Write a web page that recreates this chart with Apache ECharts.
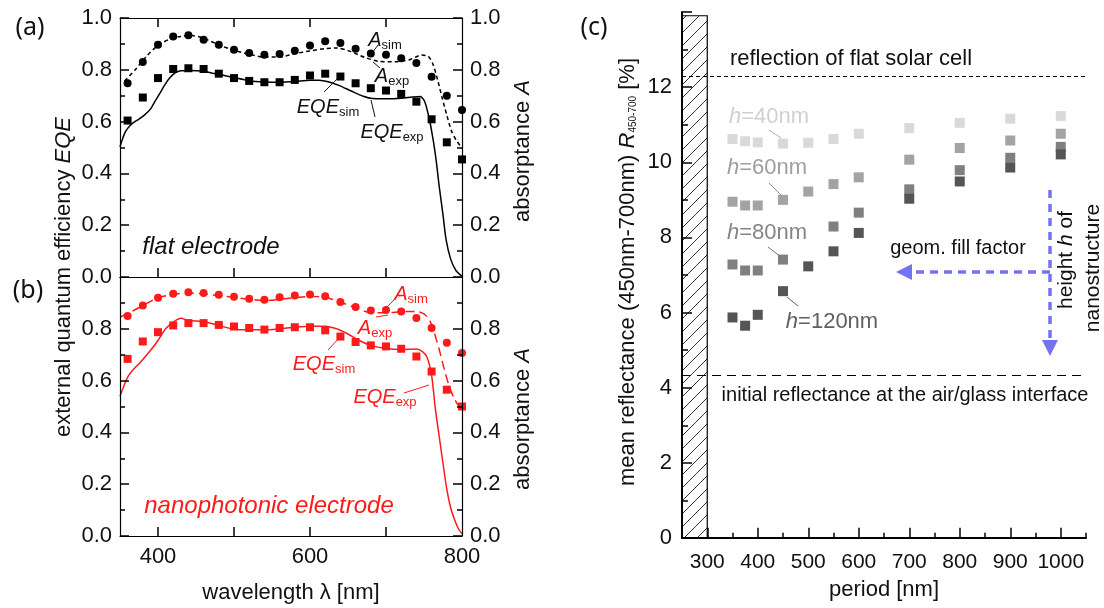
<!DOCTYPE html>
<html>
<head>
<meta charset="utf-8">
<script src="https://cdn.jsdelivr.net/npm/echarts@6.0.0/dist/echarts.min.js"></script>
<style>
  html, body { margin: 0; padding: 0; background: #fff; }
  #chart { width: 1104px; height: 608px; }
</style>
</head>
<body>
<div id="chart"></div>
<script>
// wavelengths of the simulated points, panels (a) and (b)
const lambdaPts = [360, 380, 400, 420, 440, 460, 480, 500, 520, 540, 560, 580, 600, 620, 640, 660, 680, 700, 720, 740, 760, 780, 800];

// (a) flat electrode
const flatAsim = [0.748, 0.830, 0.897, 0.929, 0.933, 0.916, 0.897, 0.877, 0.865, 0.858, 0.861, 0.874, 0.894, 0.910, 0.903, 0.881, 0.863, 0.858, 0.845, 0.826, 0.773, 0.700, 0.645];
const flatEQEsim = [0.604, 0.693, 0.768, 0.803, 0.806, 0.803, 0.785, 0.768, 0.757, 0.752, 0.752, 0.761, 0.778, 0.785, 0.774, 0.748, 0.729, 0.720, 0.707, 0.677, 0.609, 0.520, 0.454];
const flatAexp = [[356, 0.757], [370, 0.80], [385, 0.853], [400, 0.894], [415, 0.918], [430, 0.929], [445, 0.932], [460, 0.922], [480, 0.896], [500, 0.875], [520, 0.860], [540, 0.849], [560, 0.849], [580, 0.862], [600, 0.873], [620, 0.882], [636, 0.884], [652, 0.872], [672, 0.848], [690, 0.833], [712, 0.831], [730, 0.838], [747, 0.857], [756, 0.851], [762, 0.82], [768, 0.76], [774, 0.69], [780, 0.625], [786, 0.565], [792, 0.53], [800, 0.497]];
const flatEQEexp = [[350, 0.503], [357, 0.56], [365, 0.59], [374, 0.608], [382, 0.625], [390, 0.648], [397, 0.683], [403, 0.712], [409, 0.742], [415, 0.767], [422, 0.787], [430, 0.796], [442, 0.797], [458, 0.795], [472, 0.787], [486, 0.779], [500, 0.770], [520, 0.758], [540, 0.753], [560, 0.752], [580, 0.755], [600, 0.760], [612, 0.760], [625, 0.753], [638, 0.740], [655, 0.717], [670, 0.698], [682, 0.689], [700, 0.688], [720, 0.690], [735, 0.695], [745, 0.697], [751, 0.677], [757, 0.61], [762, 0.53], [766, 0.45], [770, 0.35], [775, 0.24], [779, 0.145], [785, 0.07], [792, 0.025], [800, 0.003]];

// (b) nanophotonic electrode
const nanoAsim = [0.849, 0.890, 0.920, 0.935, 0.941, 0.938, 0.931, 0.924, 0.916, 0.912, 0.922, 0.929, 0.932, 0.926, 0.903, 0.884, 0.871, 0.873, 0.867, 0.842, 0.803, 0.746, 0.707];
const nanoEQEsim = [0.684, 0.751, 0.787, 0.813, 0.822, 0.822, 0.815, 0.809, 0.803, 0.797, 0.803, 0.806, 0.806, 0.794, 0.770, 0.749, 0.736, 0.732, 0.723, 0.693, 0.635, 0.565, 0.500];
const nanoAexp = [[350, 0.845], [365, 0.866], [380, 0.89], [400, 0.92], [420, 0.933], [440, 0.938], [460, 0.935], [480, 0.928], [500, 0.922], [520, 0.914], [540, 0.909], [560, 0.914], [580, 0.92], [600, 0.925], [620, 0.922], [640, 0.903], [660, 0.881], [680, 0.862], [700, 0.862], [720, 0.866], [740, 0.867], [750, 0.858], [757, 0.835], [763, 0.79], [770, 0.72], [777, 0.64], [784, 0.57], [790, 0.53], [795, 0.505], [800, 0.498]];
const nanoEQEexp = [[350, 0.54], [360, 0.613], [368, 0.645], [376, 0.668], [390, 0.716], [400, 0.755], [410, 0.80], [420, 0.826], [430, 0.841], [440, 0.832], [460, 0.828], [480, 0.813], [500, 0.798], [520, 0.796], [540, 0.796], [560, 0.80], [580, 0.806], [600, 0.81], [620, 0.81], [635, 0.80], [650, 0.78], [665, 0.755], [680, 0.736], [700, 0.724], [720, 0.72], [740, 0.722], [748, 0.712], [754, 0.69], [760, 0.62], [765, 0.49], [770, 0.385], [775, 0.28], [780, 0.18], [785, 0.11], [790, 0.065], [795, 0.03], [800, 0.008]];

// (c) mean reflectance vs. period for four heights
const periods = [350, 375, 400, 450, 500, 550, 600, 700, 800, 900, 1000];
const r40 = [10.62, 10.56, 10.53, 10.50, 10.52, 10.62, 10.76, 10.91, 11.05, 11.16, 11.23];
const r60 = [8.95, 8.85, 8.85, 9.00, 9.22, 9.42, 9.60, 10.07, 10.38, 10.58, 10.76];
const r80 = [7.28, 7.12, 7.12, 7.41, null, 8.29, 8.66, 9.28, 9.79, 10.12, 10.41];
const r120 = [5.87, 5.65, 5.94, 6.57, 7.23, 7.63, 8.12, 9.03, 9.49, 9.86, 10.21];
const flatCell = 12.29;
const airGlass = 4.34;

// tick values
const lambdaTicks = [400, 500, 600, 700];
const lambdaLabels = [400, 600, 800];
const periodTicks = [300, 400, 500, 600, 700, 800, 900, 1000];
const periodMinor = [350, 450, 550, 650, 750, 850, 950, 1050];

const FONT = '"Liberation Sans", Arial, sans-serif';
const RED = '#ff1a1a';
const BLUE = '#7272f2';

const chart = echarts.init(document.getElementById('chart'), null, { renderer: 'canvas' });

// hatch for the excluded region (period < 300 nm)
const hatch = document.createElement('canvas');
hatch.width = 13; hatch.height = 13;
const hc = hatch.getContext('2d');
hc.strokeStyle = '#333'; hc.lineWidth = 1;
hc.beginPath();
hc.moveTo(0, 13); hc.lineTo(13, 0);
hc.moveTo(-2, 2); hc.lineTo(2, -2);
hc.moveTo(11, 15); hc.lineTo(15, 11);
hc.stroke();

function pairs(xs, ys) {
  const out = [];
  for (let i = 0; i < xs.length; i++) {
    if (ys[i] !== null) out.push([xs[i], ys[i]]);
  }
  return out;
}

// x ticks as short vertical segments in data space (custom x ticks don't draw in this build)
function vTicks(values, y0, y1) {
  return values.map(v => [{ coord: [v, y0] }, { coord: [v, y1] }]);
}
function tickLines(data, w) {
  return {
    silent: true, symbol: 'none', label: { show: false }, animation: false,
    lineStyle: { color: '#000', width: w, type: 'solid' },
    emphasis: { disabled: true },
    data: data
  };
}

function xAx(grid, pos, labels) {
  return {
    gridIndex: grid, type: 'value', position: pos, min: 350, max: 800, z: 10,
    axisLine: { show: true, onZero: false, lineStyle: { color: '#000', width: 1.2 } },
    axisTick: { show: false },
    axisLabel: labels ? { show: true, customValues: lambdaLabels, fontSize: 22, color: '#111', fontFamily: FONT, margin: 10 } : { show: false },
    splitLine: { show: false }
  };
}

function yAx(grid, pos, showMax) {
  return {
    gridIndex: grid, type: 'value', position: pos, min: 0, max: 1, interval: 0.2, z: 10,
    axisLine: { show: true, lineStyle: { color: '#000', width: 1.2 } },
    axisTick: { show: true, inside: true, length: 9, lineStyle: { color: '#000', width: 1.5 } },
    minorTick: { show: true, splitNumber: 2, length: 5, lineStyle: { color: '#000', width: 1.5 } },
    splitLine: { show: false },
    axisLabel: {
      show: true, fontSize: 22, color: '#111', fontFamily: FONT, margin: 8, showMaxLabel: showMax,
      formatter: v => v.toFixed(1)
    }
  };
}

function lineSeries(x, y, data, color, dash) {
  return {
    type: 'line', xAxisIndex: x, yAxisIndex: y, data: data, showSymbol: false, smooth: 0.25,
    lineStyle: { color: color, width: 1.5, type: dash }, z: 3
  };
}

function dotSeries(x, y, xs, ys, color, sym) {
  return {
    type: 'scatter', xAxisIndex: x, yAxisIndex: y, data: pairs(xs, ys),
    symbol: sym, symbolSize: 8, itemStyle: { color: color, opacity: 1 }, z: 4
  };
}

function squares(vals, color) {
  return {
    type: 'scatter', xAxisIndex: 4, yAxisIndex: 4, data: pairs(periods, vals),
    symbol: 'rect', symbolSize: 10, itemStyle: { color: color, opacity: 1 }, z: 4
  };
}

function txt(x, y, text, size, color, extra) {
  const el = {
    type: 'text', x: x, y: y, silent: true, z: 20,
    style: Object.assign({
      text: text, fontSize: size, fill: color, fontFamily: FONT,
      align: 'center', verticalAlign: 'middle'
    }, extra && extra.style)
  };
  if (extra && extra.rotation) el.rotation = extra.rotation;
  return el;
}

function ital(size, color) {
  return { i: { fontStyle: 'italic', fontSize: size, fill: color, fontFamily: FONT } };
}

function sub(x, y, main, s, color, size) {
  return txt(x, y, '{m|' + main + '}{s|' + s + '}', size, color, {
    style: {
      rich: {
        m: { fontSize: size, fontStyle: 'italic', fill: color, fontFamily: FONT },
        s: { fontSize: Math.round(size * 0.65), fill: color, fontFamily: FONT, padding: [11, 0, 0, 0] }
      }
    }
  });
}

function seg(x1, y1, x2, y2, color, w, dash) {
  return {
    type: 'line', silent: true, z: 20, shape: { x1: x1, y1: y1, x2: x2, y2: y2 },
    style: { stroke: color, lineWidth: w || 1, lineDash: dash || null }
  };
}

const option = {
  animation: false,
  backgroundColor: '#fff',
  grid: [
    { left: 120, top: 18, width: 342, height: 259 },
    { left: 120, top: 277, width: 342, height: 259 },
    { left: 682, top: 12, width: 404, height: 526 }
  ],
  xAxis: [
    xAx(0, 'bottom', false),
    xAx(0, 'top', false),
    xAx(1, 'bottom', true),
    xAx(1, 'top', false),
    {
      gridIndex: 2, type: 'value', position: 'bottom', min: 250, max: 1050, z: 10,
      axisLine: { show: true, onZero: false, lineStyle: { color: '#000', width: 2 } },
      axisTick: { show: false },
      axisLabel: { show: true, customValues: periodTicks, fontSize: 21, color: '#111', fontFamily: FONT, margin: 14, formatter: v => String(v) },
      splitLine: { show: false }
    }
  ],
  yAxis: [
    yAx(0, 'left', true),
    yAx(0, 'right', true),
    yAx(1, 'left', false),
    yAx(1, 'right', false),
    {
      gridIndex: 2, type: 'value', position: 'left', min: 0, max: 14, interval: 2, z: 10,
      axisLine: { show: true, onZero: false, lineStyle: { color: '#000', width: 2 } },
      axisTick: { show: true, inside: true, length: 10, lineStyle: { color: '#000', width: 1.5 } },
      minorTick: { show: true, splitNumber: 2, length: 6, lineStyle: { color: '#000', width: 1.5 } },
      axisLabel: { show: true, fontSize: 22, color: '#111', fontFamily: FONT, margin: 10, showMaxLabel: false },
      splitLine: { show: false }
    }
  ],
  series: [
    lineSeries(0, 0, flatAexp, '#000', [4, 3]),
    lineSeries(0, 0, flatEQEexp, '#000', 'solid'),
    Object.assign(dotSeries(0, 0, lambdaPts, flatAsim, '#000', 'circle'), {
      markLine: tickLines(vTicks(lambdaTicks, 0, 0.035).concat(vTicks(lambdaTicks, 1, 0.965)), 1.5)
    }),
    dotSeries(0, 0, lambdaPts, flatEQEsim, '#000', 'rect'),

    lineSeries(2, 2, nanoAexp, RED, [9, 5]),
    lineSeries(2, 2, nanoEQEexp, RED, 'solid'),
    Object.assign(dotSeries(2, 2, lambdaPts, nanoAsim, RED, 'circle'), {
      markLine: tickLines(vTicks(lambdaTicks, 0, 0.035), 1.5)
    }),
    dotSeries(2, 2, lambdaPts, nanoEQEsim, RED, 'rect'),

    Object.assign(squares(r40, '#d9d9d9'), {
      markArea: {
        silent: true,
        itemStyle: { color: { image: hatch, repeat: 'repeat' }, borderColor: '#000', borderWidth: 1.2, opacity: 1 },
        data: [[{ coord: [250, 0] }, { coord: [300, 13.9] }]]
      },
      markLine: {
        silent: true, symbol: 'none', label: { show: false },
        data: [
          { yAxis: flatCell, lineStyle: { color: '#000', width: 1.2, type: [4, 3] } },
          { yAxis: airGlass, lineStyle: { color: '#000', width: 1.2, type: [9, 6] } }
        ]
      }
    }),
    Object.assign(squares(r60, '#a3a3a3'), {
      markLine: tickLines(vTicks(periodTicks, 0, 0.27).concat(vTicks(periodMinor, 0, 0.14)), 1.5)
    }),
    squares(r80, '#808080'),
    squares(r120, '#555555')
  ],
  graphic: [
    // panel letters
    txt(30, 28, '(a)', 25, '#111', { style: { fontFamily: '"Noto Sans", sans-serif' } }),
    txt(28, 291, '(b)', 25, '#111', { style: { fontFamily: '"Noto Sans", sans-serif' } }),
    txt(594, 28, '(c)', 25, '#111', { style: { fontFamily: '"Noto Sans", sans-serif' } }),

    // axis titles (a)/(b)
    txt(64, 277, 'external quantum efficiency {i|EQE}', 22, '#111', { rotation: Math.PI / 2, style: { rich: ital(22, '#111') } }),
    txt(523, 151, 'absorptance {i|A}', 22, '#111', { rotation: Math.PI / 2, style: { rich: ital(22, '#111') } }),
    txt(523, 419, 'absorptance {i|A}', 22, '#111', { rotation: Math.PI / 2, style: { rich: ital(22, '#111') } }),
    txt(291, 593, 'wavelength λ [nm]', 22, '#111'),

    // annotations (a)
    sub(385, 40, 'A', 'sim', '#111', 20),
    sub(392, 76, 'A', 'exp', '#111', 20),
    sub(328, 107, 'EQE', 'sim', '#111', 20),
    sub(392, 132, 'EQE', 'exp', '#111', 20),
    seg(378, 45, 372, 53, '#111'),
    seg(380, 68, 373, 62, '#111'),
    seg(324, 92, 338, 78, '#111'),
    seg(375, 117, 371, 100, '#111'),
    txt(211, 247, 'flat electrode', 24, '#111', { style: { fontStyle: 'italic' } }),

    // annotations (b)
    sub(411, 294, 'A', 'sim', RED, 20),
    sub(375, 328, 'A', 'exp', RED, 20),
    sub(324, 364, 'EQE', 'sim', RED, 20),
    sub(385, 397, 'EQE', 'exp', RED, 20),
    seg(394, 300, 385, 309, RED),
    seg(376, 317, 388, 315, RED),
    seg(328, 350, 340, 337, RED),
    seg(404, 393, 429, 385, RED),
    txt(269, 506, 'nanophotonic electrode', 24, RED, { style: { fontStyle: 'italic' } }),

    // panel (c) titles
    txt(628, 272, 'mean reflectance (450nm-700nm) {i|R}{s|450-700} [%]', 22, '#111', {
      rotation: Math.PI / 2,
      style: {
        rich: {
          i: { fontStyle: 'italic', fontSize: 22, fill: '#111', fontFamily: FONT },
          s: { fontSize: 10, fill: '#111', fontFamily: FONT, padding: [10, 0, 0, 0] }
        }
      }
    }),
    txt(884, 590, 'period [nm]', 22, '#111'),
    txt(851, 59, 'reflection of flat solar cell', 22, '#111'),
    txt(905, 395, 'initial reflectance at the air/glass interface', 20, '#111'),

    // height labels
    txt(769, 117, '{i|h}=40nm', 22, '#d0d0d0', { style: { rich: ital(22, '#d0d0d0') } }),
    txt(767, 168, '{i|h}=60nm', 22, '#9e9e9e', { style: { rich: ital(22, '#9e9e9e') } }),
    txt(767, 233, '{i|h}=80nm', 22, '#858585', { style: { rich: ital(22, '#858585') } }),
    txt(832, 322, '{i|h}=120nm', 22, '#606060', { style: { rich: ital(22, '#606060') } }),
    seg(769, 130, 781, 138, '#b0b0b0'),
    seg(769, 183, 781, 195, '#909090'),
    seg(768, 247, 781, 257, '#707070'),
    seg(787, 297, 798, 306, '#606060'),

    // blue arrows
    seg(1050, 190, 1050, 342, BLUE, 3.5, [8, 6]),
    seg(1050, 272, 911, 272, BLUE, 3.5, [8, 6]),
    { type: 'polygon', silent: true, z: 20, shape: { points: [[1050, 356], [1042, 340], [1058, 340]] }, style: { fill: BLUE } },
    { type: 'polygon', silent: true, z: 20, shape: { points: [[896, 272], [912, 264], [912, 280]] }, style: { fill: BLUE } },
    txt(958, 248, 'geom. fill factor', 20, '#111'),
    txt(1066, 260, 'height {i|h} of', 21, '#111', { rotation: Math.PI / 2, style: { rich: ital(21, '#111') } }),
    txt(1093, 268, 'nanostructure', 21, '#111', { rotation: Math.PI / 2 })
  ]
};

chart.setOption(option);
</script>
</body>
</html>
